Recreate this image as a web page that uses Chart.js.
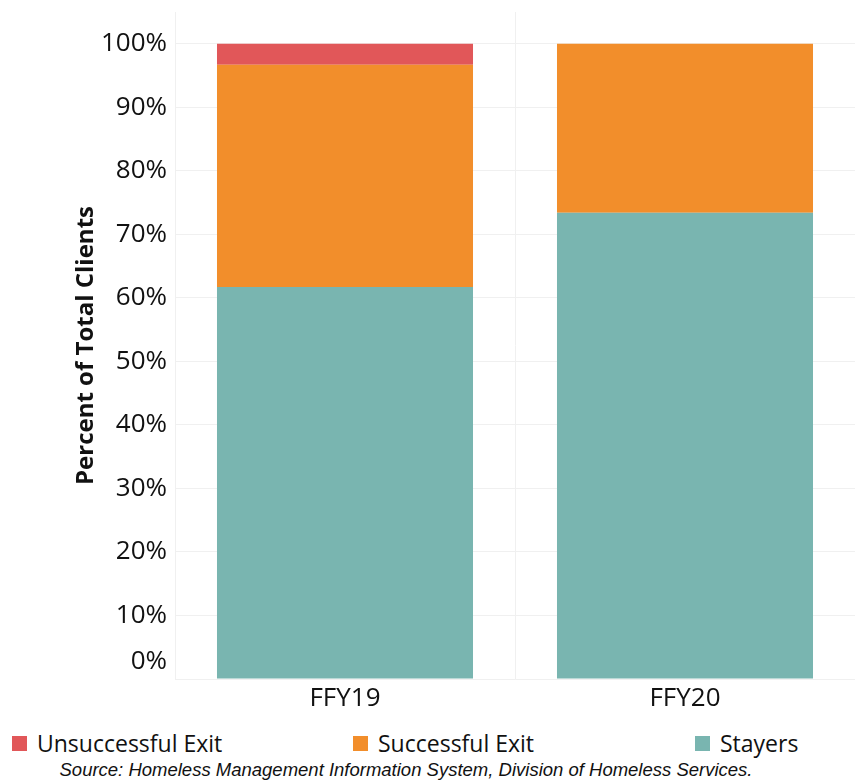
<!DOCTYPE html>
<html>
<head>
<meta charset="utf-8">
<script src="https://cdn.jsdelivr.net/npm/chart.js@4"></script>
<style>
  body { margin: 0; background: #fff; }
  #wrap { position: relative; width: 855px; height: 780px; font-family: "Open Sans", sans-serif; }
  #myChart { position: absolute; left: 0; top: 0; }
  .leg { position: absolute; top: 727px; display: flex; align-items: center; font-size: 23px; color: #111; }
  .leg span.box { width: 15px; height: 15px; margin-right: 10px; display: inline-block; }
  #source { position: absolute; left: 0; width: 812px; top: 759px; text-align: center;
    font-family: "Liberation Sans", Arial, sans-serif; font-style: italic; font-size: 18.5px; color: #111; }
</style>
</head>
<body>
<div id="wrap">
  <canvas id="myChart" width="855" height="720"></canvas>
  <div id="legend"></div>
  <div id="source">Source: Homeless Management Information System, Division of Homeless Services.</div>
</div>
<script>
const categories = ['FFY19', 'FFY20'];
const stayers = [61.7, 73.4];
const successfulExit = [35.0, 26.6];
const unsuccessfulExit = [3.3, 0];
const yTicks = [0, 10, 20, 30, 40, 50, 60, 70, 80, 90, 100];

const colors = { unsuccessful: '#e15759', successful: '#f28e2b', stayers: '#79b5b0' };

// legend (top item first, like the reference)
const legendItems = [
  { label: 'Unsuccessful Exit', color: colors.unsuccessful, left: 12 },
  { label: 'Successful Exit', color: colors.successful, left: 353 },
  { label: 'Stayers', color: colors.stayers, left: 695 }
];
const legendDiv = document.getElementById('legend');
legendItems.forEach(item => {
  const d = document.createElement('div');
  d.className = 'leg';
  d.style.left = item.left + 'px';
  d.innerHTML = `<span class="box" style="background:${item.color}"></span>${item.label}`;
  legendDiv.appendChild(d);
});

// the 0% label sits a little above its gridline in the reference
const zeroLabel = {
  id: 'zeroLabel',
  afterDraw(chart) {
    const y = chart.scales.y;
    const c = chart.ctx;
    c.save();
    c.font = '26px "Open Sans"';
    c.fillStyle = '#111';
    c.textAlign = 'right';
    c.textBaseline = 'middle';
    c.fillText('0%', chart.chartArea.left - 8, y.getPixelForValue(0) - 17);
    c.restore();
  }
};

const ctx = document.getElementById('myChart').getContext('2d');
const myChart = new Chart(ctx, {
  type: 'bar',
  data: {
    labels: categories,
    datasets: [
      { label: 'Stayers', data: stayers, backgroundColor: colors.stayers },
      { label: 'Successful Exit', data: successfulExit, backgroundColor: colors.successful },
      { label: 'Unsuccessful Exit', data: unsuccessfulExit, backgroundColor: colors.unsuccessful }
    ]
  },
  plugins: [zeroLabel],
  options: {
    responsive: false,
    animation: false,
    layout: { padding: { top: 12, left: 0, right: -3, bottom: 0 } },
    datasets: { bar: { barPercentage: 0.753, categoryPercentage: 1 } },
    plugins: { legend: { display: false }, tooltip: { enabled: false } },
    scales: {
      x: {
        stacked: true,
        grid: { color: '#f0f0f0', drawTicks: false },
        border: { color: '#f0f0f0' },
        ticks: { color: '#111', font: { family: 'Open Sans', size: 26 }, padding: 4 },
        afterFit(scale) { scale.height = 41; }
      },
      y: {
        stacked: true,
        min: 0,
        max: 105,
        afterBuildTicks(axis) { axis.ticks = yTicks.map(v => ({ value: v })); },
        grid: { color: '#f0f0f0', drawTicks: false },
        border: { color: '#f0f0f0' },
        ticks: {
          color: '#111',
          font: { family: 'Open Sans', size: 26 },
          padding: 8,
          callback: v => v === 0 ? '' : v + '%'
        },
        title: {
          display: true,
          text: 'Percent of Total Clients',
          color: '#111',
          font: { family: 'Open Sans', size: 24, weight: 'bold' },
          padding: { top: 72, bottom: 0 }
        },
        afterFit(scale) {
          scale.width = 175;
          scale.paddingTop = 0;
          scale.paddingBottom = 0;
        }
      }
    }
  }
});
</script>
</body>
</html>
